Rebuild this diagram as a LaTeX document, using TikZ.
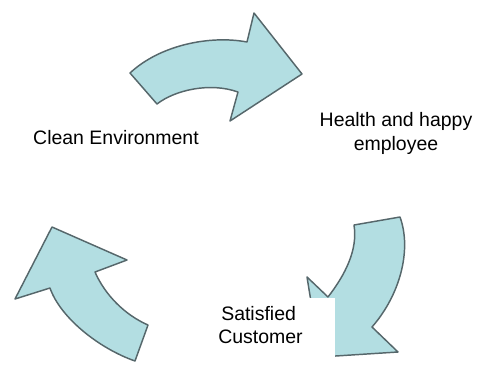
\documentclass[tikz,border=0pt]{standalone}
\usepackage{fontspec}
\setmainfont{Liberation Sans}
\definecolor{arrowfill}{HTML}{B3DEE2}
\definecolor{arrowline}{HTML}{56676B}
\tikzset{
  bentarrow/.style={fill=arrowfill, draw=arrowline, line width=1.1pt, line join=round},
  label/.style={inner sep=0pt, font=\fontsize{14.6}{17}\selectfont, text=black},
  coverbox/.style={fill=white, draw=none}
}
\begin{document}
\begin{tikzpicture}[x=0.75pt,y=-0.75pt]
\useasboundingbox (0,0) rectangle (479,369);
% top arrow
\draw[bentarrow] (130,73) .. controls (160,45) and (210,35) .. (247,42) -- (254,13) -- (302,74) -- (230,121) -- (238,92) .. controls (210,82) and (175,90) .. (157,104) -- cycle;
% right arrow
\draw[bentarrow] (354,225) -- (400,217) .. controls (412,250) and (400,295) .. (372,327) -- (398,352) -- (320,357) -- (307,277) -- (328,297) .. controls (345,275) and (358,250) .. (354,225) -- cycle;
% left arrow
\draw[bentarrow] (52,227) -- (127,260) -- (95,272) .. controls (105,295) and (125,315) .. (148,325) -- (135,361) .. controls (98,348) and (60,317) .. (50,288) -- (15,299) -- cycle;
% white box covering the arrow head
\fill[coverbox] (188,298) rectangle (335,359);
% labels
\node[label, anchor=base] (clean) at (116,144) {Clean Environment};
\node[label, anchor=base] (health) at (396,126) {Health and happy};
\node[label, anchor=base] (employee) at (396,150) {employee};
\node[label, anchor=base west] (satisfied) at (221,320) {Satisfied};
\node[label, anchor=base west] (customer) at (218,343) {Customer};
\end{tikzpicture}
\end{document}
